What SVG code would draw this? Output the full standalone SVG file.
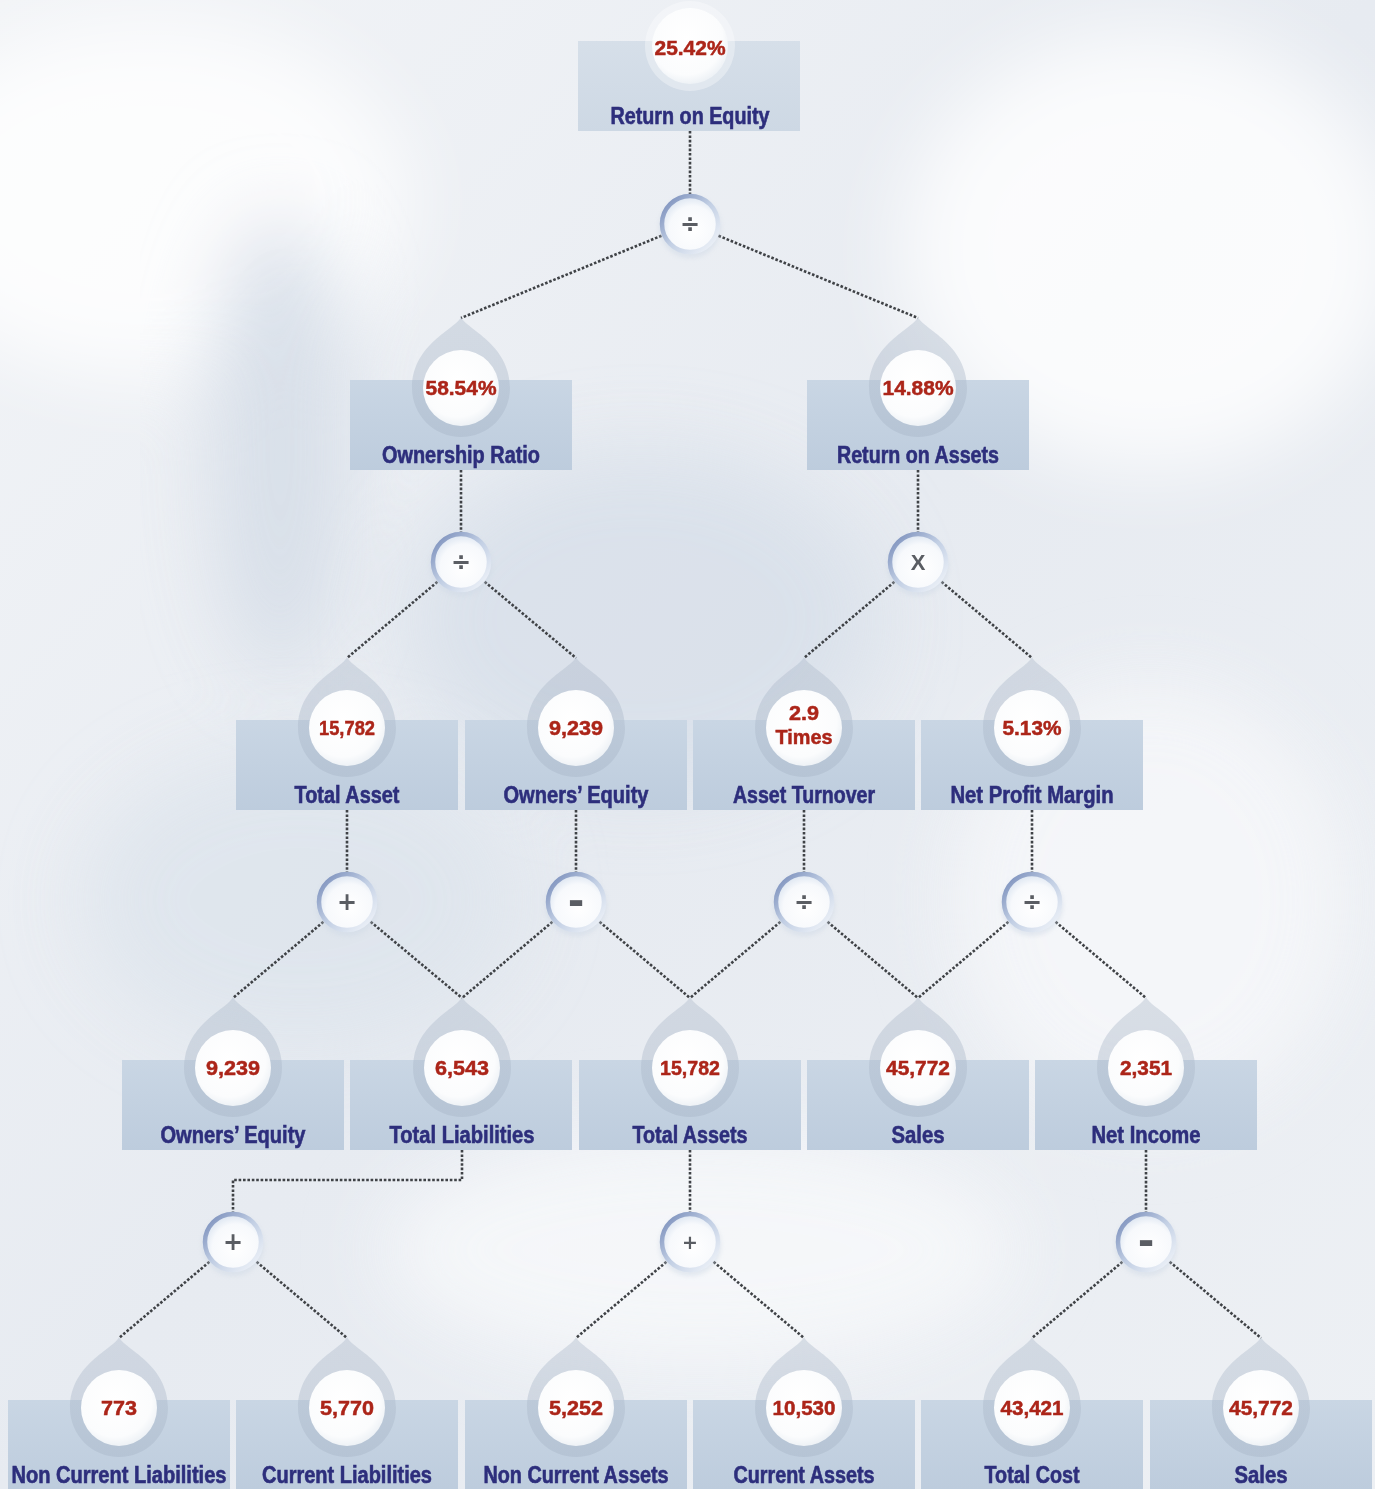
<svg xmlns="http://www.w3.org/2000/svg" xmlns:xlink="http://www.w3.org/1999/xlink" width="1375" height="1489" viewBox="0 0 1375 1489">
<defs>
  <linearGradient id="bg" x1="0" y1="0" x2="1" y2="1">
    <stop offset="0" stop-color="#f2f4f7"/>
    <stop offset="0.5" stop-color="#e7ebf1"/>
    <stop offset="1" stop-color="#edf0f4"/>
  </linearGradient>
  <filter id="blur" x="-50%" y="-50%" width="200%" height="200%"><feGaussianBlur stdDeviation="40"/></filter>
  <filter id="soft" x="-20%" y="-20%" width="140%" height="140%"><feGaussianBlur stdDeviation="2"/></filter>
  <linearGradient id="boxg" x1="0" y1="0" x2="0" y2="1">
    <stop offset="0" stop-color="#c9d6e4"/>
    <stop offset="1" stop-color="#bdccdd"/>
  </linearGradient>
  <linearGradient id="topg" x1="0" y1="0" x2="0" y2="1">
    <stop offset="0" stop-color="#d6dfe9"/>
    <stop offset="1" stop-color="#cdd8e4"/>
  </linearGradient>
  <linearGradient id="dropg" x1="0" y1="0" x2="0" y2="1">
    <stop offset="0" stop-color="#b0bccc"/>
    <stop offset="1" stop-color="#a6b4c6"/>
  </linearGradient>
  <radialGradient id="valg" cx="0.45" cy="0.4" r="0.6">
    <stop offset="0" stop-color="#ffffff"/>
    <stop offset="0.8" stop-color="#fbfcfd"/>
    <stop offset="1" stop-color="#eef2f6"/>
  </radialGradient>
  <radialGradient id="opg" cx="0.55" cy="0.6" r="0.6">
    <stop offset="0" stop-color="#ffffff"/>
    <stop offset="0.7" stop-color="#f7f9fc"/>
    <stop offset="1" stop-color="#dce5f1"/>
  </radialGradient>
  <linearGradient id="ring" x1="0" y1="0" x2="1" y2="1">
    <stop offset="0" stop-color="#7489b8"/>
    <stop offset="0.5" stop-color="#c2cfe4"/>
    <stop offset="1" stop-color="#f4f7fb"/>
  </linearGradient>
  <path id="drop" d="M0,-71 C5,-59 49,-44 49,0 A49,49 0 1 1 -49,0 C-49,-44 -5,-59 0,-71 Z"/>
  <g id="op">
    <circle r="31" fill="#cfd9e6" opacity="0.5" filter="url(#soft)" cy="3"/>
    <circle r="28" fill="url(#opg)" stroke="url(#ring)" stroke-width="4.5"/>
  </g>
  <style>
    .box{fill:url(#boxg);}
    .topbox{fill:url(#topg);}
    .drop{fill:url(#dropg);opacity:0.42;}
    .val{fill:url(#valg);}
    .lbl{font-family:"Liberation Sans",Arial,sans-serif;font-weight:bold;font-size:23px;fill:#2d2e7c;stroke:#2d2e7c;stroke-width:0.6;text-anchor:middle;}
    .num{font-family:"Liberation Sans",Arial,sans-serif;font-weight:bold;font-size:21px;fill:#ac2519;stroke:#ac2519;stroke-width:0.5;text-anchor:middle;}
    .sym{font-family:"DejaVu Sans",sans-serif;font-weight:bold;font-size:24px;fill:#5a5d63;text-anchor:middle;}
    .minus{font-size:40px;}
    .conn{fill:none;stroke:#3f4246;stroke-width:2.6;stroke-dasharray:2.6 1.8;}
  </style>
</defs>

<rect width="1375" height="1489" fill="url(#bg)"/>
<g opacity="0.8">
  <ellipse cx="150" cy="200" rx="260" ry="180" fill="#ffffff" filter="url(#blur)"/>
  <ellipse cx="1150" cy="250" rx="250" ry="220" fill="#ffffff" filter="url(#blur)"/>
  <ellipse cx="280" cy="450" rx="70" ry="230" fill="#d3dbe6" filter="url(#blur)"/>
  <ellipse cx="640" cy="620" rx="240" ry="170" fill="#d7dfe9" filter="url(#blur)"/>
  <ellipse cx="300" cy="900" rx="220" ry="150" fill="#dde4ec" filter="url(#blur)"/>
  <ellipse cx="1150" cy="900" rx="200" ry="220" fill="#f7f8fa" filter="url(#blur)"/>
  <ellipse cx="700" cy="1250" rx="320" ry="120" fill="#f8f9fb" filter="url(#blur)"/>
</g>

<g id="connectors">
  <path class="conn" d="M690,131 V194"/>
  <path class="conn" d="M690,224 L461,318 M690,224 L918,318"/>
  <path class="conn" d="M461,470 V534 M918,470 V534"/>
  <path class="conn" d="M461,562 L347,658 M461,562 L576,658 M918,562 L804,658 M918,562 L1032,658"/>
  <path class="conn" d="M347,810 V874 M576,810 V874 M804,810 V874 M1032,810 V874"/>
  <path class="conn" d="M347,902 L233,998 M347,902 L462,998 M576,902 L462,998 M576,902 L690,998 M804,902 L690,998 M804,902 L918,998 M1032,902 L918,998 M1032,902 L1146,998"/>
  <path class="conn" d="M462,1150 V1180 H233 V1214 M690,1150 V1214 M1146,1150 V1214"/>
  <path class="conn" d="M233,1242 L119,1338 M233,1242 L347,1338 M690,1242 L576,1338 M690,1242 L804,1338 M1146,1242 L1032,1338 M1146,1242 L1261,1338"/>
</g>

<!-- Row 0 -->
<g id="n-roe">
  <rect class="topbox" x="578" y="41" width="222" height="90"/>
  <circle cx="690" cy="46" r="45" fill="#ffffff" opacity="0.35"/>
  <circle class="val" cx="690" cy="46" r="38"/>
  <text class="num" x="690" y="55" textLength="71" lengthAdjust="spacingAndGlyphs">25.42%</text>
  <text class="lbl" x="690" y="124" textLength="159" lengthAdjust="spacingAndGlyphs">Return on Equity</text>
</g>
<g id="op-roe"><use xlink:href="#op" x="690" y="224"/><text class="sym" x="690" y="232">÷</text></g>

<!-- Row 1 -->
<g id="n-own">
  <rect class="box" x="350" y="380" width="222" height="90"/>
  <use xlink:href="#drop" class="drop" x="461" y="388"/>
  <circle class="val" cx="461" cy="388" r="38"/>
  <text class="num" x="461" y="395" textLength="71" lengthAdjust="spacingAndGlyphs">58.54%</text>
  <text class="lbl" x="461" y="463" textLength="158" lengthAdjust="spacingAndGlyphs">Ownership Ratio</text>
</g>
<g id="n-roa">
  <rect class="box" x="807" y="380" width="222" height="90"/>
  <use xlink:href="#drop" class="drop" x="918" y="388"/>
  <circle class="val" cx="918" cy="388" r="38"/>
  <text class="num" x="918" y="395" textLength="71" lengthAdjust="spacingAndGlyphs">14.88%</text>
  <text class="lbl" x="918" y="463" textLength="162" lengthAdjust="spacingAndGlyphs">Return on Assets</text>
</g>
<g id="op-own"><use xlink:href="#op" x="461" y="562"/><text class="sym" x="461" y="570">÷</text></g>
<g id="op-roa"><use xlink:href="#op" x="918" y="562"/><text class="sym" x="918" y="570" style="font-family:'Liberation Sans',Arial,sans-serif;font-size:22px">X</text></g>

<!-- Row 2 -->
<g id="n-ta">
  <rect class="box" x="236" y="720" width="222" height="90"/>
  <use xlink:href="#drop" class="drop" x="347" y="728"/>
  <circle class="val" cx="347" cy="728" r="38"/>
  <text class="num" x="347" y="735" textLength="56" lengthAdjust="spacingAndGlyphs">15,782</text>
  <text class="lbl" x="347" y="803" textLength="105" lengthAdjust="spacingAndGlyphs">Total Asset</text>
</g>
<g id="n-oe">
  <rect class="box" x="465" y="720" width="222" height="90"/>
  <use xlink:href="#drop" class="drop" x="576" y="728"/>
  <circle class="val" cx="576" cy="728" r="38"/>
  <text class="num" x="576" y="735" textLength="54" lengthAdjust="spacingAndGlyphs">9,239</text>
  <text class="lbl" x="576" y="803" textLength="145" lengthAdjust="spacingAndGlyphs">Owners’ Equity</text>
</g>
<g id="n-at">
  <rect class="box" x="693" y="720" width="222" height="90"/>
  <use xlink:href="#drop" class="drop" x="804" y="728"/>
  <circle class="val" cx="804" cy="728" r="38"/>
  <text class="num" x="804" y="720" textLength="30" lengthAdjust="spacingAndGlyphs">2.9</text>
  <text class="num" x="804" y="744" textLength="57" lengthAdjust="spacingAndGlyphs">Times</text>
  <text class="lbl" x="804" y="803" textLength="142" lengthAdjust="spacingAndGlyphs">Asset Turnover</text>
</g>
<g id="n-npm">
  <rect class="box" x="921" y="720" width="222" height="90"/>
  <use xlink:href="#drop" class="drop" x="1032" y="728"/>
  <circle class="val" cx="1032" cy="728" r="38"/>
  <text class="num" x="1032" y="735" textLength="59" lengthAdjust="spacingAndGlyphs">5.13%</text>
  <text class="lbl" x="1032" y="803" textLength="163" lengthAdjust="spacingAndGlyphs">Net Profit Margin</text>
</g>
<g id="op-ta"><use xlink:href="#op" x="347" y="902"/><text class="sym" x="347" y="910">+</text></g>
<g id="op-oe"><use xlink:href="#op" x="576" y="902"/><text class="sym minus" x="576" y="915">-</text></g>
<g id="op-at"><use xlink:href="#op" x="804" y="902"/><text class="sym" x="804" y="910">÷</text></g>
<g id="op-npm"><use xlink:href="#op" x="1032" y="902"/><text class="sym" x="1032" y="910">÷</text></g>

<!-- Row 3 -->
<g id="n-oe2">
  <rect class="box" x="122" y="1060" width="222" height="90"/>
  <use xlink:href="#drop" class="drop" x="233" y="1068"/>
  <circle class="val" cx="233" cy="1068" r="38"/>
  <text class="num" x="233" y="1075" textLength="54" lengthAdjust="spacingAndGlyphs">9,239</text>
  <text class="lbl" x="233" y="1143" textLength="145" lengthAdjust="spacingAndGlyphs">Owners’ Equity</text>
</g>
<g id="n-tl">
  <rect class="box" x="350" y="1060" width="222" height="90"/>
  <use xlink:href="#drop" class="drop" x="462" y="1068"/>
  <circle class="val" cx="462" cy="1068" r="38"/>
  <text class="num" x="462" y="1075" textLength="54" lengthAdjust="spacingAndGlyphs">6,543</text>
  <text class="lbl" x="462" y="1143" textLength="145" lengthAdjust="spacingAndGlyphs">Total Liabilities</text>
</g>
<g id="n-tas">
  <rect class="box" x="579" y="1060" width="222" height="90"/>
  <use xlink:href="#drop" class="drop" x="690" y="1068"/>
  <circle class="val" cx="690" cy="1068" r="38"/>
  <text class="num" x="690" y="1075" textLength="60" lengthAdjust="spacingAndGlyphs">15,782</text>
  <text class="lbl" x="690" y="1143" textLength="115" lengthAdjust="spacingAndGlyphs">Total Assets</text>
</g>
<g id="n-sales">
  <rect class="box" x="807" y="1060" width="222" height="90"/>
  <use xlink:href="#drop" class="drop" x="918" y="1068"/>
  <circle class="val" cx="918" cy="1068" r="38"/>
  <text class="num" x="918" y="1075" textLength="64" lengthAdjust="spacingAndGlyphs">45,772</text>
  <text class="lbl" x="918" y="1143" textLength="53" lengthAdjust="spacingAndGlyphs">Sales</text>
</g>
<g id="n-ni">
  <rect class="box" x="1035" y="1060" width="222" height="90"/>
  <use xlink:href="#drop" class="drop" x="1146" y="1068"/>
  <circle class="val" cx="1146" cy="1068" r="38"/>
  <text class="num" x="1146" y="1075" textLength="52" lengthAdjust="spacingAndGlyphs">2,351</text>
  <text class="lbl" x="1146" y="1143" textLength="109" lengthAdjust="spacingAndGlyphs">Net Income</text>
</g>
<g id="op-tl"><use xlink:href="#op" x="233" y="1242"/><text class="sym" x="233" y="1250">+</text></g>
<g id="op-tas"><use xlink:href="#op" x="690" y="1242"/><text class="sym" x="690" y="1249" style="font-size:19px">+</text></g>
<g id="op-ni"><use xlink:href="#op" x="1146" y="1242"/><text class="sym minus" x="1146" y="1255">-</text></g>

<!-- Row 4 -->
<g id="n-ncl">
  <rect class="box" x="8" y="1400" width="222" height="89"/>
  <use xlink:href="#drop" class="drop" x="119" y="1408"/>
  <circle class="val" cx="119" cy="1408" r="38"/>
  <text class="num" x="119" y="1415" textLength="36" lengthAdjust="spacingAndGlyphs">773</text>
  <text class="lbl" x="119" y="1483" textLength="215" lengthAdjust="spacingAndGlyphs">Non Current Liabilities</text>
</g>
<g id="n-cl">
  <rect class="box" x="236" y="1400" width="222" height="89"/>
  <use xlink:href="#drop" class="drop" x="347" y="1408"/>
  <circle class="val" cx="347" cy="1408" r="38"/>
  <text class="num" x="347" y="1415" textLength="54" lengthAdjust="spacingAndGlyphs">5,770</text>
  <text class="lbl" x="347" y="1483" textLength="170" lengthAdjust="spacingAndGlyphs">Current Liabilities</text>
</g>
<g id="n-nca">
  <rect class="box" x="465" y="1400" width="222" height="89"/>
  <use xlink:href="#drop" class="drop" x="576" y="1408"/>
  <circle class="val" cx="576" cy="1408" r="38"/>
  <text class="num" x="576" y="1415" textLength="54" lengthAdjust="spacingAndGlyphs">5,252</text>
  <text class="lbl" x="576" y="1483" textLength="185" lengthAdjust="spacingAndGlyphs">Non Current Assets</text>
</g>
<g id="n-ca">
  <rect class="box" x="693" y="1400" width="222" height="89"/>
  <use xlink:href="#drop" class="drop" x="804" y="1408"/>
  <circle class="val" cx="804" cy="1408" r="38"/>
  <text class="num" x="804" y="1415" textLength="63" lengthAdjust="spacingAndGlyphs">10,530</text>
  <text class="lbl" x="804" y="1483" textLength="141" lengthAdjust="spacingAndGlyphs">Current Assets</text>
</g>
<g id="n-tc">
  <rect class="box" x="921" y="1400" width="222" height="89"/>
  <use xlink:href="#drop" class="drop" x="1032" y="1408"/>
  <circle class="val" cx="1032" cy="1408" r="38"/>
  <text class="num" x="1032" y="1415" textLength="63" lengthAdjust="spacingAndGlyphs">43,421</text>
  <text class="lbl" x="1032" y="1483" textLength="95" lengthAdjust="spacingAndGlyphs">Total Cost</text>
</g>
<g id="n-sales2">
  <rect class="box" x="1150" y="1400" width="222" height="89"/>
  <use xlink:href="#drop" class="drop" x="1261" y="1408"/>
  <circle class="val" cx="1261" cy="1408" r="38"/>
  <text class="num" x="1261" y="1415" textLength="64" lengthAdjust="spacingAndGlyphs">45,772</text>
  <text class="lbl" x="1261" y="1483" textLength="53" lengthAdjust="spacingAndGlyphs">Sales</text>
</g>
</svg>
